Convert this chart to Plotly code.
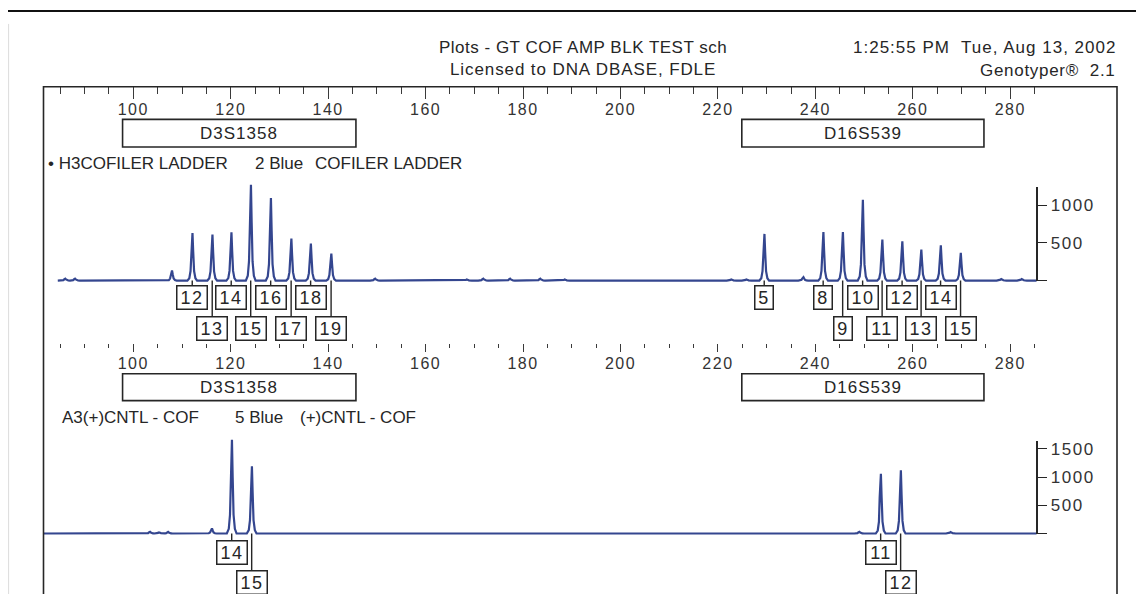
import plotly.graph_objects as go

# page is 1144x602; the browser's default 8px body margin offsets the figure
PAGE_OFF = 8
W, H = 1144 - 2 * PAGE_OFF, 602 - 2 * PAGE_OFF

# ---------------- data ----------------
TICK_BP = list(range(100, 281, 20))
TICK_LABELS = [str(v) for v in TICK_BP]
MINOR_BP = [v for v in range(85, 286, 5) if v % 20 != 0]

LOCI = ["D3S1358", "D16S539"]
LOCUS_START = [97.8, 224.9]
LOCUS_END = [145.7, 274.6]

# Ladder (top panel) – labelled allele peaks
LADDER_ALLELES = ["12", "13", "14", "15", "16", "17", "18", "19",
                  "5", "8", "9", "10", "11", "12", "13", "14", "15"]
LADDER_BP = [112.1, 116.2, 120.1, 124.1, 128.2, 132.4, 136.4, 140.6,
             229.5, 241.6, 245.6, 249.7, 253.7, 257.8, 261.7, 265.7, 269.8]
LADDER_RFU = [633, 612, 642, 1274, 1097, 559, 493, 360,
              620, 646, 646, 1075, 546, 523, 413, 470, 368]
# Ladder – unlabelled small peaks / baseline bumps
LADDER_MINOR_BP = [86.0, 88.0, 107.9, 149.6, 168.5, 171.8, 177.3, 183.5,
                   188.6, 222.8, 225.9, 237.5, 278.2, 282.4]
LADDER_MINOR_RFU = [25, 25, 133, 25, 15, 25, 25, 25, 15, 15, 15, 45, 20, 20]

# Positive control (bottom panel)
CONTROL_ALLELES = ["14", "15", "11", "12"]
CONTROL_BP = [120.2, 124.3, 253.4, 257.5]
CONTROL_RFU = [1658, 1188, 1058, 1117]
CONTROL_MINOR_BP = [103.4, 105.3, 107.1, 116.1, 249.0, 267.8]
CONTROL_MINOR_RFU = [30, 20, 30, 90, 30, 25]

TOP_SCALE_TICKS = [0, 500, 1000]
BOTTOM_SCALE_TICKS = [0, 500, 1000, 1500]

# ---------------- layout helpers (page pixel -> paper) ----------------
def pxx(p):
    return (p - PAGE_OFF) / W

def pxy(p):
    return 1 - (p - PAGE_OFF) / H

def clamp(v):
    return max(0.0, min(1.0, v))

def ls(s, sp):
    return f'<span style="letter-spacing:{sp}px">{s}</span>'

BP_LEFT, BP_RIGHT = 81.57, 301.91
X_DOMAIN = [pxx(43.5), pxx(1117)]

TOP_BASE, TOP_K = 279.5, 0.0755      # pixel of baseline, pixels per RFU
BOT_BASE, BOT_K = 533.3, 0.0567
TOP_DATA_PX = (150, 350)
BOT_DATA_PX = (430, 594)
TOP_SCALE_MAX = 1250
BOT_SCALE_MAX = 1630

FONT = "Liberation Sans, Arial, Helvetica, sans-serif"
INK = "#262626"
TRACE_COLOR = "#34468f"

PEAK_DX = [-1.0, -0.6, -0.35, -0.2, -0.05, 0.05, 0.2, 0.38, 0.65, 1.0]
PEAK_FRAC = [0.0, 0.05, 0.2, 0.6, 1.0, 1.0, 0.6, 0.2, 0.05, 0.0]


def signal(start, end, bps, rfus):
    xs, ys = [start], [0]
    for b, h in sorted(zip(bps, rfus)):
        for dx, f in zip(PEAK_DX, PEAK_FRAC):
            xs.append(b + dx)
            ys.append(h * f)
    xs.append(end)
    ys.append(0)
    return xs, ys


fig = go.Figure()

tx, ty = signal(84.5, 285.4, LADDER_BP + LADDER_MINOR_BP, LADDER_RFU + LADDER_MINOR_RFU)
fig.add_trace(go.Scatter(x=tx, y=ty, mode="lines", xaxis="x", yaxis="y",
                         line=dict(color=TRACE_COLOR, width=2.2), hoverinfo="skip",
                         showlegend=False))
bx, by = signal(BP_LEFT, 285.4, CONTROL_BP + CONTROL_MINOR_BP, CONTROL_RFU + CONTROL_MINOR_RFU)
fig.add_trace(go.Scatter(x=bx, y=by, mode="lines", xaxis="x2", yaxis="y2",
                         line=dict(color=TRACE_COLOR, width=2.2), hoverinfo="skip",
                         showlegend=False))
# invisible traces to carry the intensity scale axes
fig.add_trace(go.Scatter(x=LADDER_BP, y=LADDER_RFU, mode="markers", xaxis="x", yaxis="y3",
                         marker=dict(opacity=0), hoverinfo="skip", showlegend=False))
fig.add_trace(go.Scatter(x=CONTROL_BP, y=CONTROL_RFU, mode="markers", xaxis="x2", yaxis="y4",
                         marker=dict(opacity=0), hoverinfo="skip", showlegend=False))


def bp_axis(pos_px, major_len, minor_len, extra=None):
    d = dict(domain=X_DOMAIN, range=[BP_LEFT, BP_RIGHT], anchor="free",
             position=clamp(pxy(pos_px)), side="bottom", showline=False, showgrid=False,
             zeroline=False, ticks="outside", ticklen=major_len, tickwidth=1.4,
             tickcolor="#3a3a3a", tickmode="array", tickvals=TICK_BP,
             ticktext=[ls(t, 1.5) for t in TICK_LABELS],
             tickfont=dict(family=FONT, size=16, color="#333"),
             ticklabelstandoff=-3,
             minor=dict(tickmode="array", tickvals=MINOR_BP, ticks="outside",
                        ticklen=minor_len, tickwidth=1.3, tickcolor="#3a3a3a",
                        showgrid=False),
             fixedrange=True)
    if extra:
        d.update(extra)
    return d


def data_axis(base, k, px_range):
    top_px, bot_px = px_range
    return dict(domain=[clamp(pxy(bot_px)), clamp(pxy(top_px))],
                range=[(base - bot_px) / k, (base - top_px) / k],
                visible=False, fixedrange=True)


def scale_axis(base, k, vmax, ticks):
    return dict(domain=[pxy(base), pxy(base - vmax * k)], range=[0, vmax],
                anchor="free", position=pxx(1036.7), side="right",
                showline=True, linecolor=INK, linewidth=1.5, showgrid=False,
                zeroline=False, ticks="outside", ticklen=10, tickwidth=1.4,
                tickcolor=INK, tickmode="array", tickvals=ticks,
                ticktext=["" if t == 0 else ls(str(t), 1.5) for t in ticks],
                tickfont=dict(family=FONT, size=17, color="#333"), fixedrange=True)


fig.update_layout(
    width=W, height=H, margin=dict(l=0, r=0, t=0, b=0),
    paper_bgcolor="white", plot_bgcolor="rgba(0,0,0,0)",
    xaxis=bp_axis(84.5, 12, 7),
    xaxis2=bp_axis(342.5, 8, 4, dict(matches="x")),
    yaxis=data_axis(TOP_BASE, TOP_K, TOP_DATA_PX),
    yaxis2=data_axis(BOT_BASE, BOT_K, BOT_DATA_PX),
    yaxis3=scale_axis(TOP_BASE, TOP_K, TOP_SCALE_MAX, TOP_SCALE_TICKS),
    yaxis4=scale_axis(BOT_BASE, BOT_K, BOT_SCALE_MAX, BOTTOM_SCALE_TICKS),
    showlegend=False,
)

shapes = []
annotations = []

# page decorations
shapes.append(dict(type="line", xref="paper", yref="paper", x0=0, x1=1,
                   y0=pxy(9), y1=pxy(9), line=dict(color="#111", width=2)))
shapes.append(dict(type="line", xref="paper", yref="paper", x0=pxx(8.6), x1=pxx(8.6),
                   y0=pxy(22), y1=pxy(610), line=dict(color="#dcdcdc", width=1)))
shapes.append(dict(type="rect", xref="paper", yref="paper", x0=pxx(43.5), x1=pxx(1117),
                   y0=pxy(85), y1=pxy(620), line=dict(color=INK, width=1.6)))


def text(x, y, s, anchor="left", size=17, sp=None):
    annotations.append(dict(x=pxx(x), y=pxy(y), xref="paper", yref="paper",
                            text=ls(s, sp) if sp else s,
                            showarrow=False, xanchor=anchor, yanchor="middle",
                            font=dict(family=FONT, size=size, color=INK)))


text(583, 45.5, "Plots - GT COF AMP BLK TEST sch", "center", sp=0.5)
text(583, 67.5, "Licensed to DNA DBASE, FDLE", "center", sp=0.9)
text(1118, 45.5, "1:25:55 PM  Tue, Aug 13, 2002", "right", sp=1)
text(1118, 69, "Genotyper®  2.1", "right", sp=0.7)

text(46, 162.3, "• H3COFILER LADDER")
text(253, 162.3, "2 Blue")
text(313, 162.3, "COFILER LADDER")
text(60, 417.3, "A3(+)CNTL - COF")
text(233, 417.3, "5 Blue")
text(298, 417.3, "(+)CNTL - COF")

# locus boxes
for xr, (y0, y1) in (("x", (117.7, 145.5)), ("x2", (373, 400))):
    for name, s, e in zip(LOCI, LOCUS_START, LOCUS_END):
        shapes.append(dict(type="rect", xref=xr, yref="paper", x0=s, x1=e,
                           y0=pxy(y1), y1=pxy(y0), line=dict(color=INK, width=1.6)))
        annotations.append(dict(x=(s + e) / 2, y=pxy((y0 + y1) / 2), xref=xr, yref="paper",
                                text=ls(name, 1), showarrow=False, yanchor="middle",
                                font=dict(family=FONT, size=17, color=INK)))


def allele_labels(alleles, bps, xr, yr, row_offsets):
    prev_bp, prev_row = None, 0
    for lab, b in sorted(zip(alleles, bps), key=lambda t: t[1]):
        row = 2 if (prev_bp is not None and b - prev_bp < 6 and prev_row == 1) else 1
        prev_bp, prev_row = b, row
        annotations.append(dict(
            x=b, y=0, xref=xr, yref=yr, text=ls(lab, 1.5), showarrow=True, arrowhead=0,
            arrowwidth=1.4, arrowcolor=INK, ax=0, ay=row_offsets[row - 1],
            standoff=0, startstandoff=0, bordercolor=INK, borderwidth=1.5,
            borderpad=1, bgcolor="white", width=12 * len(lab) + 3, height=20,
            font=dict(family=FONT, size=18, color=INK)))


allele_labels(LADDER_ALLELES, LADDER_BP, "x", "y", (17, 47.5))
allele_labels(CONTROL_ALLELES, CONTROL_BP, "x2", "y2", (19.2, 49))

fig.update_layout(shapes=shapes, annotations=annotations)

fig.write_html("out.html")
